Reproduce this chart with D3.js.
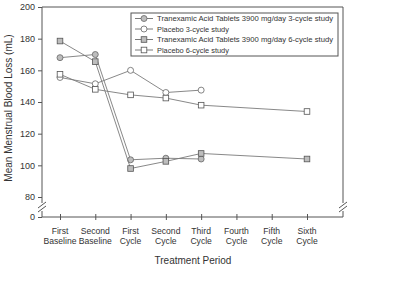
<!DOCTYPE html>
<html>
<head>
<meta charset="utf-8">
<script src="https://cdn.jsdelivr.net/npm/d3@7"></script>
<style>
  body { margin: 0; background: #fff; }
  text { font-family: "Liberation Sans", Arial, sans-serif; fill: #333; }
</style>
</head>
<body>
<div id="chart"></div>
<script>
var width = 400
var height = 301

// data
var periods = ["First|Baseline", "Second|Baseline", "First|Cycle", "Second|Cycle",
    "Third|Cycle", "Fourth|Cycle", "Fifth|Cycle", "Sixth|Cycle"];
var txa3 = [168, 170, 103.5, 104.5, 104, null, null, null];
var pla3 = [155.5, 151.5, 160, 146, 147.5, null, null, null];
var txa6 = [178.5, 165.5, 98, 102.5, 107.5, null, null, 104];
var pla6 = [157.5, 148, 144.5, 142.5, 138, null, null, 134];
var yTicks = [0, 80, 100, 120, 140, 160, 180, 200];
var seriesNames = [
    "Tranexamic Acid Tablets 3900 mg/day 3-cycle study",
    "Placebo 3-cycle study",
    "Tranexamic Acid Tablets 3900 mg/day 6-cycle study",
    "Placebo 6-cycle study"
];

var series = [
    { name: seriesNames[0], values: txa3, shape: "circle", fill: "#bdbdbd" },
    { name: seriesNames[1], values: pla3, shape: "circle", fill: "#fff" },
    { name: seriesNames[2], values: txa6, shape: "square", fill: "#bdbdbd" },
    { name: seriesNames[3], values: pla6, shape: "square", fill: "#fff" }
];

// plot box (named to avoid clashing with window.top)
var pLeft = 42, pRight = 343, pTop = 7, pBottom = 217;
var gapA = 203, gapB = 211;

var svg = d3.select("#chart").append("svg")
    .attr("width", width)
    .attr("height", height);

var x = d3.scalePoint()
    .domain(periods)
    .range([60, 307]);

// broken axis: 0..80 squeezed into a short stub
var y = d3.scaleLinear()
    .domain([0, 80, 200])
    .range([pBottom, 197, pTop]);

var axisColor = "#555";

// frame: top and right
svg.append("path")
    .attr("d", "M" + pLeft + "," + pTop + "H" + pRight + "V" + gapA + "M" + pRight + "," + gapB + "V" + pBottom)
    .attr("fill", "none")
    .attr("stroke", axisColor)
    .attr("stroke-width", 1);

// y axis
var yAxis = svg.append("g")
    .attr("transform", "translate(" + pLeft + ",0)")
    .call(d3.axisLeft(y).tickValues(yTicks).tickSize(4).tickPadding(3));
yAxis.select(".domain").remove();
yAxis.selectAll("line").attr("stroke", axisColor);
yAxis.selectAll("text").attr("font-size", 9).style("fill", "#333")
    .attr("font-family", "Liberation Sans, Arial, sans-serif");
svg.append("path")
    .attr("d", "M" + pLeft + "," + pTop + "V" + gapA + "M" + pLeft + "," + gapB + "V" + pBottom)
    .attr("stroke", axisColor)
    .attr("fill", "none");

// x axis
var xAxis = svg.append("g")
    .attr("transform", "translate(0," + pBottom + ")")
    .call(d3.axisBottom(x).tickSizeInner(3).tickSizeOuter(0).tickFormat(""));
xAxis.select(".domain").remove();
xAxis.selectAll(".tick line").attr("y1", -3).attr("stroke", axisColor);
svg.append("line")
    .attr("x1", pLeft).attr("x2", pRight)
    .attr("y1", pBottom).attr("y2", pBottom)
    .attr("stroke", axisColor);

periods.forEach(function(p) {
    var parts = p.split("|");
    var t = svg.append("text")
        .attr("x", x(p))
        .attr("y", 234)
        .attr("text-anchor", "middle")
        .attr("font-size", 8.6);
    t.append("tspan").attr("x", x(p)).attr("dy", 0).text(parts[0]);
    t.append("tspan").attr("x", x(p)).attr("dy", 10).text(parts[1]);
});

// break marks
[pLeft, pRight].forEach(function(bx) {
    [0, 4].forEach(function(off) {
        svg.append("line")
            .attr("x1", bx - 4).attr("y1", 208 + off)
            .attr("x2", bx + 4).attr("y2", 202 + off)
            .attr("stroke", axisColor);
    });
});

// axis titles
svg.append("text")
    .attr("x", 193)
    .attr("y", 264)
    .attr("text-anchor", "middle")
    .attr("font-size", 10)
    .text("Treatment Period");

svg.append("text")
    .attr("transform", "translate(12,108) rotate(-90)")
    .attr("text-anchor", "middle")
    .attr("font-size", 10)
    .text("Mean Menstrual Blood Loss (mL)");

var line = d3.line()
    .x(function(d) { return x(d.p); })
    .y(function(d) { return y(d.v); });

function drawMarker(g, shape, fill, cx, cy) {
    if (shape == "circle") {
        g.append("circle")
            .attr("cx", cx).attr("cy", cy).attr("r", 3)
            .attr("fill", fill).attr("stroke", "#666").attr("stroke-width", 0.8);
    } else {
        g.append("rect")
            .attr("x", cx - 2.8).attr("y", cy - 2.8)
            .attr("width", 5.6).attr("height", 5.6)
            .attr("fill", fill).attr("stroke", "#555").attr("stroke-width", 0.8);
    }
}

series.forEach(function(s) {
    var pts = s.values.map(function(v, i) { return { p: periods[i], v: v }; })
        .filter(function(d) { return d.v != null; });
    var g = svg.append("g");
    g.append("path")
        .datum(pts)
        .attr("d", line)
        .attr("fill", "none")
        .attr("stroke", "#7a7a7a")
        .attr("stroke-width", 0.9);
    pts.forEach(function(d) {
        drawMarker(g, s.shape, s.fill, x(d.p), y(d.v));
    });
});

// legend
var legend = svg.append("g");
legend.append("rect")
    .attr("x", 131).attr("y", 13)
    .attr("width", 207).attr("height", 43)
    .attr("fill", "#fff")
    .attr("stroke", "#555");

series.forEach(function(s, i) {
    var ly = 18.5 + i * 10.5;
    legend.append("line")
        .attr("x1", 135).attr("x2", 153)
        .attr("y1", ly).attr("y2", ly)
        .attr("stroke", "#7a7a7a");
    drawMarker(legend, s.shape, s.fill, 144, ly);
    legend.append("text")
        .attr("x", 157)
        .attr("y", ly + 2.6)
        .attr("font-size", 7.4)
        .attr("textLength", s.name.length > 30 ? 176 : null)
        .attr("lengthAdjust", "spacingAndGlyphs")
        .text(s.name);
});
</script>
</body>
</html>
